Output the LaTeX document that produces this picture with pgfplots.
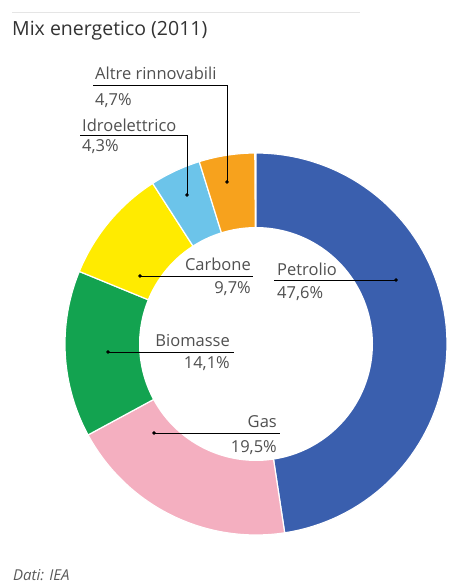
\documentclass[border=0pt]{standalone}
\usepackage{pgfplots}
\pgfplotsset{compat=1.18}
\usepackage{fontspec}
\setmainfont{Open Sans}
\definecolor{cPet}{HTML}{3A5FAE}
\definecolor{cGas}{HTML}{F4AFC0}
\definecolor{cBio}{HTML}{13A350}
\definecolor{cCar}{HTML}{FFEB00}
\definecolor{cIdr}{HTML}{6CC4EA}
\definecolor{cAlt}{HTML}{F7A21D}
\definecolor{txt}{HTML}{505050}
% shares (percent)
\def\vPet{47.6}\def\vGas{19.5}\def\vBio{14.1}\def\vCar{9.7}\def\vIdr{4.3}\def\vAlt{4.7}
\pgfmathsetmacro\aA{90}
\pgfmathsetmacro\aB{\aA-3.6*\vPet}
\pgfmathsetmacro\aC{\aB-3.6*\vGas}
\pgfmathsetmacro\aD{\aC-3.6*\vBio}
\pgfmathsetmacro\aE{\aD-3.6*\vCar}
\pgfmathsetmacro\aF{\aE-3.6*\vIdr}
\pgfmathsetmacro\aG{\aF-3.6*\vAlt}
\newcommand\slice[3]{\addplot[fill=#3, draw=white, line width=1.2pt, domain=#1:#2, samples=80, variable=\t] ({256+191*cos(\t)},{244+191*sin(\t)}) -- (256,244) -- cycle;}
\tikzset{lab/.style={inner sep=0pt, text=txt, font=\fontsize{16.5}{19}\selectfont}}
\begin{document}
\begin{tikzpicture}
\begin{axis}[scale only axis, width=448pt, height=588pt, xmin=0, xmax=448, ymin=0, ymax=588, axis lines=none, clip=false]
\slice{\aB}{\aA}{cPet}
\slice{\aC}{\aB}{cGas}
\slice{\aD}{\aC}{cBio}
\slice{\aE}{\aD}{cCar}
\slice{\aF}{\aE}{cIdr}
\slice{\aG}{\aF}{cAlt}
\addplot[fill=white, draw=none, domain=0:360, samples=150] ({256+117*cos(x)},{244+117*sin(x)}) -- cycle;
% leader lines
\addplot[black, line width=0.7pt] coordinates {(93,503) (227,503) (227,406)};
\addplot[black, line width=0.7pt] coordinates {(80,453) (187,453) (187,393)};
\addplot[black, line width=0.7pt] coordinates {(140,312) (253,312)};
\addplot[black, line width=0.7pt] coordinates {(274,308) (396,308)};
\addplot[black, line width=0.7pt] coordinates {(108,236) (234,236)};
\addplot[black, line width=0.7pt] coordinates {(153,155) (280,155)};
\addplot[only marks, mark=*, mark size=1.5pt, black] coordinates {(227,406) (187,393) (140,312) (396,308) (108,236) (154,155)};
\addplot[gray!20, line width=0.8pt] coordinates {(12,576) (360,576)};
% labels
\node[lab, anchor=base west] at (95,508) {Altre rinnovabili};
\node[lab, anchor=base west] at (95,482) {4,7\%};
\node[lab, anchor=base west] at (82,456) {Idroelettrico};
\node[lab, anchor=base west] at (82,436) {4,3\%};
\node[lab, anchor=base east] at (251,317) {Carbone};
\node[lab, anchor=base east] at (251,294) {9,7\%};
\node[lab, anchor=base west] at (277,312) {Petrolio};
\node[lab, anchor=base west] at (277,289) {47,6\%};
\node[lab, anchor=base east] at (230,241) {Biomasse};
\node[lab, anchor=base east] at (230,219) {14,1\%};
\node[lab, anchor=base east] at (277,160) {Gas};
\node[lab, anchor=base east] at (277,135) {19,5\%};
\node[inner sep=0pt, anchor=base west, text=black!80, font=\fontsize{19.5}{22}\selectfont] at (12,552) {Mix energetico (2011)};
\node[inner sep=0pt, anchor=base west, text=black!65, font=\fontsize{15}{17}\itshape] at (13,7) {Dati: IEA};
\end{axis}
\pgfresetboundingbox
\useasboundingbox (current axis.south west) rectangle (current axis.north east);
\end{tikzpicture}
\end{document}
